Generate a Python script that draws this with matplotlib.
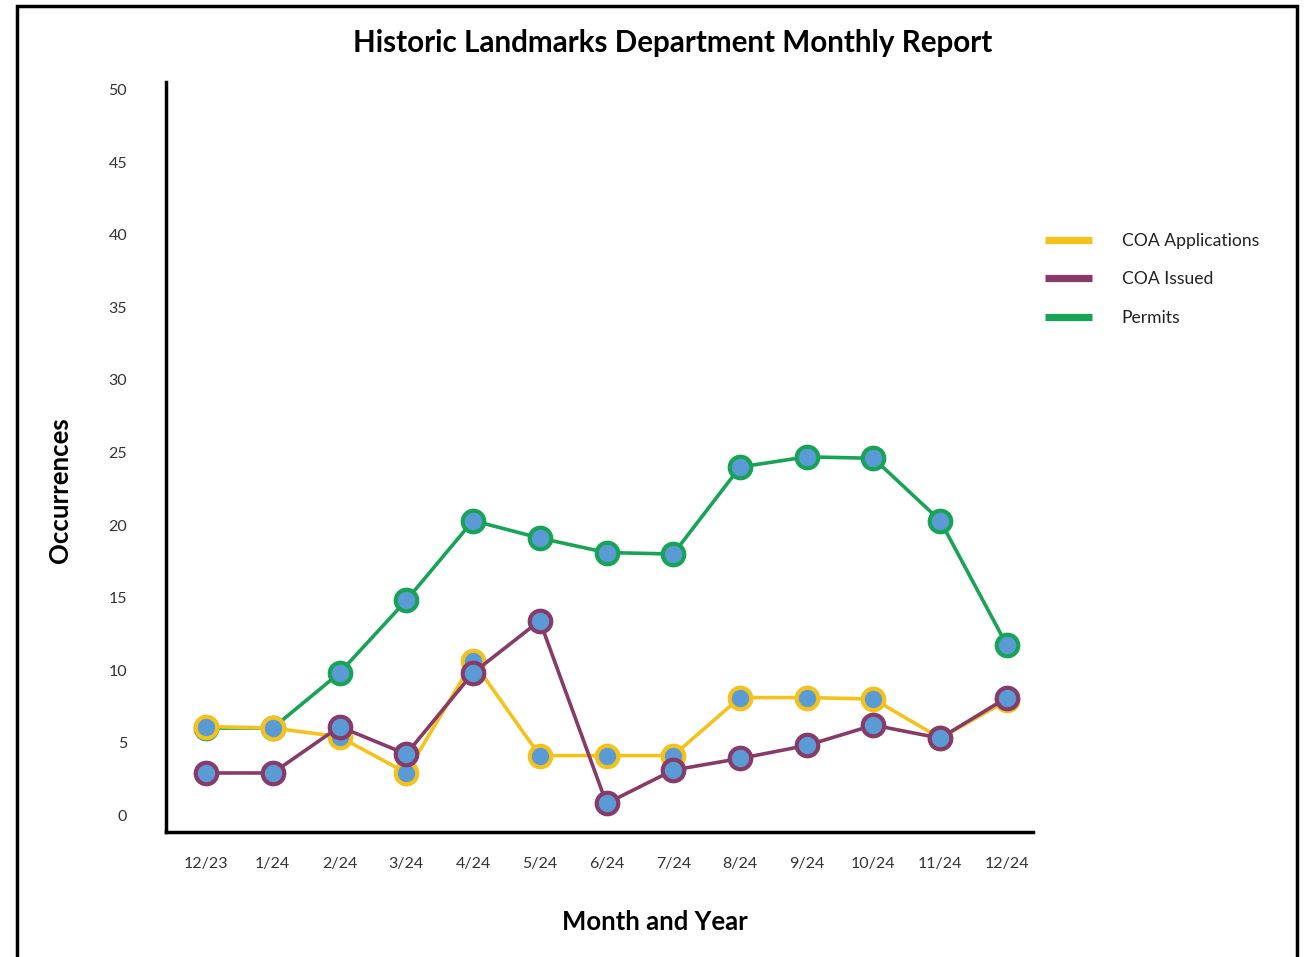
import matplotlib
matplotlib.use("Agg")
import matplotlib.pyplot as plt
from matplotlib.patches import Rectangle
from matplotlib.lines import Line2D

plt.rcParams['font.family'] = ['Lato', 'DejaVu Sans']

months = ["12/23", "1/24", "2/24", "3/24", "4/24", "5/24", "6/24",
          "7/24", "8/24", "9/24", "10/24", "11/24", "12/24"]
coa_applications = [6.1, 6.0, 5.4, 2.9, 10.6, 4.1, 4.1, 4.1, 8.1, 8.1, 8.0, 5.3, 7.9]
coa_issued = [2.9, 2.9, 6.1, 4.2, 9.8, 13.4, 0.8, 3.1, 3.9, 4.8, 6.2, 5.3, 8.1]
permits = [6.0, 6.0, 9.8, 14.8, 20.3, 19.1, 18.1, 18.0, 24.0, 24.7, 24.6, 20.3, 11.7]
y_ticks = [0, 5, 10, 15, 20, 25, 30, 35, 40, 45, 50]

C_APP = "#F5C21B"
C_ISS = "#883A68"
C_PER = "#17A456"
C_FILL = "#5B9BD5"

W, H = 1312, 957
fig = plt.figure(figsize=(W / 100, H / 100), dpi=100)
fig.patch.set_facecolor("white")

# outer border
fig.add_artist(Rectangle((17 / W, -0.01), (1297 - 17) / W, 1.01 - 6 / H,
                         transform=fig.transFigure, fill=False,
                         edgecolor="black", linewidth=2.5))

ax = fig.add_axes([166 / W, 1 - 832 / H, (1033 - 166) / W, (832 - 82) / H])
x = list(range(len(months)))

series = [("Permits", permits, C_PER), ("COA Applications", coa_applications, C_APP),
          ("COA Issued", coa_issued, C_ISS)]
for name, vals, col in series:
    ax.plot(x, vals, color=col, linewidth=2.6, marker="o", markersize=15.5,
            markerfacecolor=C_FILL, markeredgecolor=col, markeredgewidth=3,
            label=name, zorder=3)

ax.set_xlim(-0.6, 12.39)
ax.set_ylim(-1.17, 50.55)
ax.set_yticks(y_ticks)
ax.set_xticks(x)
ax.set_xticklabels(months)
ax.tick_params(axis="both", length=0, labelsize=11.5, colors="#333333")
ax.tick_params(axis="y", pad=28)
ax.tick_params(axis="x", pad=18)
for s in ["top", "right"]:
    ax.spines[s].set_visible(False)
for s in ["left", "bottom"]:
    ax.spines[s].set_linewidth(2.5)
    ax.spines[s].set_color("black")

fig.text(673 / W, 1 - 43 / H, "Historic Landmarks Department Monthly Report",
         ha="center", va="center", fontsize=21.3, fontweight="bold")
fig.text(60 / W, 1 - 490 / H, "Occurrences", rotation=90, ha="center",
         va="center", fontsize=18.5, fontweight="bold")
fig.text(655 / W, 1 - 922 / H, "Month and Year", ha="center", va="center",
         fontsize=18.5, fontweight="bold")

handles = [Line2D([], [], color=C_APP, linewidth=5.2, solid_capstyle="butt"),
           Line2D([], [], color=C_ISS, linewidth=5.2, solid_capstyle="butt"),
           Line2D([], [], color=C_PER, linewidth=5.2, solid_capstyle="butt")]
labels = ["COA Applications", "COA Issued", "Permits"]
fig.legend(handles, labels, loc="upper left",
           bbox_to_anchor=(1029 / W, 1 - 217 / H), frameon=False,
           fontsize=12.6, handlelength=2.7, handletextpad=1.7, labelspacing=1.3,
           labelcolor="#222222")

fig.savefig("out.png", dpi=100, facecolor="white")
